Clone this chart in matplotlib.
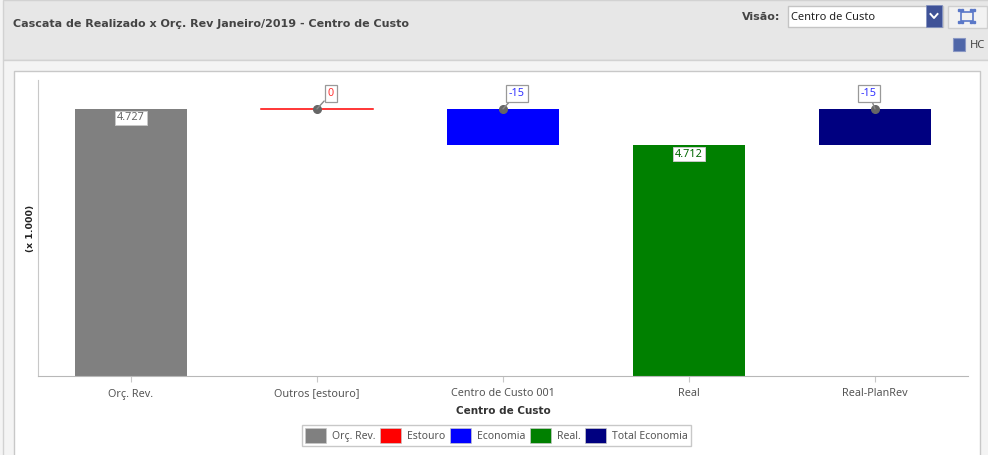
import matplotlib
matplotlib.use("Agg")
import matplotlib.pyplot as plt
from matplotlib.patches import Rectangle, Patch

plt.rcParams['font.family'] = ['Noto Sans', 'DejaVu Sans']
BOLD = 'DejaVu Sans'

categories = ['Orç. Rev.', 'Outros [estouro]', 'Centro de Custo 001', 'Real', 'Real-PlanRev']
bar_top = [4727, 4727, 4727, 4712, 4727]
bar_low = [4616, 4727, 4712, 4616, 4712]
colors = ['#808080', '#ff0000', '#0000ff', '#008000', '#000080']
labels = ['4.727', '0', '-15', '4.712', '-15']
label_colors = ['#666666', '#ff3333', '#3333ff', '#006600', '#3333ff']
legend_names = ['Orç. Rev.', 'Estouro', 'Economia', 'Real.', 'Total Economia']
W, H = 988, 455

fig = plt.figure(figsize=(W / 100, H / 100), dpi=100, facecolor='#f4f4f4')

# page chrome (pixel coordinates)
bg = fig.add_axes([0, 0, 1, 1], zorder=0)
bg.set_xlim(0, W); bg.set_ylim(H, 0); bg.axis('off')
bg.add_patch(Rectangle((3, 0), W, 60, fc='#e7e7e7', ec='#d2d2d2', lw=1))
bg.add_patch(Rectangle((3, 60), W, 400, fc='#f4f4f4', ec='#d2d2d2', lw=1))
bg.add_patch(Rectangle((13.5, 70.5), 966, 390, fc='white', ec='#c8c8c8', lw=1))
bg.text(13, 24, 'Cascata de Realizado x Orç. Rev Janeiro/2019 - Centro de Custo',
        fontsize=8, fontweight='bold', family=BOLD, color='#444444', va='center')
bg.text(780, 17.5, 'Visão:', fontsize=8, fontweight='bold', family=BOLD, color='#444444', va='center', ha='right')
bg.add_patch(Rectangle((787.5, 5.5), 155, 21, fc='white', ec='#c4c4c4', lw=1))
bg.text(791, 17, 'Centro de Custo', fontsize=8, color='#222222', va='center')
bg.add_patch(Rectangle((926, 5), 16, 22, fc='#3f5297', ec='#8090c0', lw=0.5))
bg.plot([930.5, 934, 937.5], [14, 18, 14], color='white', lw=1.4)
bg.add_patch(Rectangle((947.5, 5.5), 39, 22, fc='#f2f2f2', ec='#cfcfcf', lw=1))
bg.add_patch(Rectangle((960.5, 11.5), 12, 9, fc='none', ec='#5a78c8', lw=1.2))
bg.plot([959, 962, 971, 974, 959, 962, 971, 974], [10, 10, 10, 10, 22, 22, 22, 22], 's', ms=1.6, color='#5a78c8')
bg.add_patch(Rectangle((953, 38), 12, 13, fc='#4f66a8', ec='#8a98c4', lw=0.8))
bg.text(970, 45, 'HC', fontsize=8, color='#444444', va='center')

# plot area
ax = fig.add_axes([38 / W, 1 - 376 / H, 930 / W, 296 / H], zorder=1)
ax.patch.set_alpha(0)
x = list(range(len(categories)))
heights = [t - l for t, l in zip(bar_top, bar_low)]
ax.bar(x, heights, bottom=bar_low, width=0.605, color=colors, zorder=2)
ax.plot([x[1] - 0.3, x[1] + 0.3], [bar_top[1], bar_top[1]], color=colors[1], lw=1.1, zorder=2)
ax.set_xlim(-0.5, 4.5)
ax.set_ylim(4616, 4739)
ax.set_yticks([])
ax.set_xticks(x)
ax.set_xticklabels(categories, fontsize=7.8, color='#555555')
ax.tick_params(axis='x', length=4, color='#c8c8c8', pad=5)
for s in ['top', 'right']:
    ax.spines[s].set_visible(False)
ax.spines['left'].set_color('#c8c8c8')
ax.spines['bottom'].set_color('#b8b8b8')
ax.set_xlabel('Centro de Custo', fontsize=7.5, fontweight='bold', family=BOLD, color='#333333', labelpad=5)
ax.set_ylabel('(x 1.000)', fontsize=6.7, fontweight='bold', family=BOLD, color='#222222', labelpad=2.5)

# value labels
for i in (0, 3):
    ax.annotate(labels[i], (x[i], bar_top[i]), xytext=(0, -6.5), textcoords='offset points',
                ha='center', va='center', fontsize=7.8, color=label_colors[i], zorder=5,
                bbox=dict(boxstyle='square,pad=0.15', fc='white', ec='#c8c8c8', lw=0.7))
for i, dx in ((1, 10), (2, 10), (4, -4.3)):
    ax.plot(x[i], bar_top[i], 'o', ms=5.5, color='#666666', zorder=4, clip_on=False)
    ax.annotate(labels[i], (x[i], bar_top[i]), xytext=(dx, 11), textcoords='offset points',
                ha='center', va='center', fontsize=7.8, color=label_colors[i], zorder=5,
                bbox=dict(boxstyle='square,pad=0.3', fc='white', ec='#999999', lw=0.9),
                arrowprops=dict(arrowstyle='-', color='#888888', lw=1, shrinkA=0, shrinkB=0))

handles = [Patch(fc=c, ec='#c8c8c8', lw=0.5, label=n) for c, n in zip(colors, legend_names)]
fig.legend(handles=handles, loc='center', bbox_to_anchor=(496.5 / W, 1 - 435.5 / H), ncol=5,
           fontsize=7.5, frameon=True, fancybox=False, edgecolor='#c8c8c8', facecolor='white',
           handlelength=2.0, handleheight=1.7, handletextpad=0.6, columnspacing=0.42,
           borderpad=0.35, labelcolor='#555555', framealpha=1)

fig.savefig('out.png', dpi=100, facecolor=fig.get_facecolor())
